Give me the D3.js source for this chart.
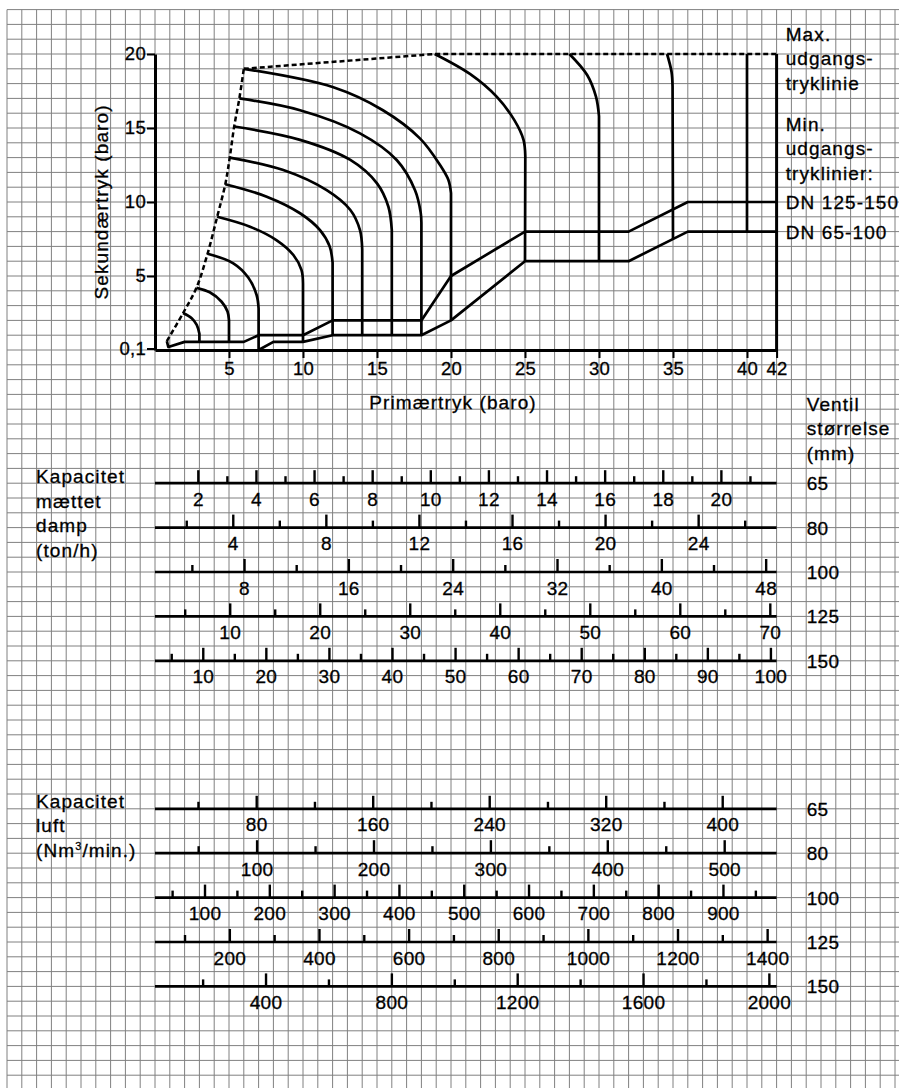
<!DOCTYPE html>
<html>
<head>
<meta charset="utf-8">
<script src="https://cdn.jsdelivr.net/npm/d3@7"></script>
<style>
    body { margin: 0; background: #fff; }
    svg text { font-family: "Liberation Sans", Arial, Helvetica, sans-serif; font-size: 19px; fill: #000; stroke: #000; stroke-width: 0.3px; }
    .word { letter-spacing: 1.1px; }
    .num { letter-spacing: 0.3px; }
</style>
</head>
<body>
<div id="chart"></div>
<script>
// ---------------------------------------------------------------- data
const pressureTicks = [5, 10, 15, 20, 25, 30, 35, 40, 42]
const outletTicks = [0.1, 5, 10, 15, 20]

// max outlet pressure line (dashed)
const maxCurve = [[0.8, 0.6], [1.9, 2.5], [2.8, 4.2], [3.55, 6.5], [4.2, 9.0], [4.75, 11.2], [5.05, 13.0], [5.35, 15.1], [5.7, 17.0], [6.0, 19.0]]
const maxTop = [[6.0, 19.0], [18.9, 20], [42, 20]]

// min outlet pressure lines
const minDN125 = [[0.8, 0.6], [0.9, 0.2], [2, 0.55], [6, 0.55], [7, 1], [10, 1], [12, 2], [18, 2], [20, 5], [25, 8], [32, 8], [36, 10], [42, 10]]
const minDN65 = [[7, 0], [8, 0.55], [10, 0.55], [12, 1], [18, 1], [20, 2], [25, 6], [32, 6], [36, 8], [42, 8]]

// primary pressure curves: arc points, then straight down to "end"
const curves = [
    { p: 3, end: 0.55, arc: [[1.9, 2.5], [2.48, 2.14], [2.82, 1.69], [3, 1.1]] },
    { p: 5, end: 0.55, arc: [[2.8, 4.2], [3.7, 3.9], [4.5, 3.26], [4.9, 2.6], [5, 2.0]] },
    { p: 7, end: 0, arc: [[3.55, 6.5], [5.29, 5.86], [6.3, 4.9], [6.87, 3.7], [7, 2.8]] },
    { p: 10, end: 0.55, arc: [[4.2, 9.0], [6.42, 8.33], [8.2, 7.43], [9.35, 6.42], [9.9, 5.4], [10, 4.5]] },
    { p: 12, end: 1, arc: [[4.75, 11.2], [7.55, 10.36], [9.8, 9.24], [11.15, 8.1], [11.8, 7.0], [12, 5.9]] },
    { p: 14, end: 1, arc: [[5.05, 13.0], [8.67, 12.16], [11.6, 10.8], [13.2, 9.46], [13.85, 8.1], [14, 6.8]] },
    { p: 16, end: 1, arc: [[5.35, 15.1], [9.8, 14.2], [13.2, 12.84], [15, 11.26], [15.77, 9.68], [16, 8.1]] },
    { p: 18, end: 1, arc: [[5.7, 17.0], [9.8, 16.2], [13.85, 14.64], [16.33, 12.84], [17.57, 10.8], [17.95, 9.3], [18, 8.6]] },
    { p: 20, end: 2, arc: [[6.0, 19.0], [12.05, 17.75], [15.4, 16.2], [17.9, 14.3], [19.26, 12.5], [19.82, 11.5], [20, 10.6]] },
    { p: 25, end: 6, arc: [[18.9, 20], [21.28, 18.65], [23.1, 17.1], [24.3, 15.5], [24.9, 14.2], [25.02, 13.1]] },
    { p: 30, end: 6, arc: [[28, 20], [29.2, 18.58], [29.8, 17.1], [30, 15.8]] },
    { p: 35, end: 7.5, arc: [[34.6, 20], [34.9, 18.8], [34.97, 17.8]] },
    { p: 40, end: 8, arc: [[40, 20]] }
]

const rightLabels = ["Max.", "udgangs-", "tryklinie", "Min.", "udgangs-", "tryklinier:"]
const dnLabels = [{ text: "DN 125-150", level: 10 }, { text: "DN 65-100", level: 8 }]

// nomogram scales (valve size in mm)
const steamSizes = [65, 80, 100, 125, 150]
const steamEnds = [21.9, 27.35, 48.8, 70.7, 100.9]
const steamMajor = [
    [2, 4, 6, 8, 10, 12, 14, 16, 18, 20],
    [4, 8, 12, 16, 20, 24],
    [8, 16, 24, 32, 40, 48],
    [10, 20, 30, 40, 50, 60, 70],
    [10, 20, 30, 40, 50, 60, 70, 80, 90, 100]
]
const steamMinor = [
    [3, 5, 7, 9, 11, 13, 15, 17, 19, 21],
    [2, 6, 10, 14, 18, 22, 26],
    [4, 12, 20, 28, 36, 44],
    [5, 15, 25, 35, 45, 55, 65],
    [5, 15, 25, 35, 45, 55, 65, 75, 85, 95]
]

const airSizes = [65, 80, 100, 125, 150]
const airEnds = [437, 544.4, 982, 1420, 2023]
const airMajor = [
    [80, 160, 240, 320, 400],
    [100, 200, 300, 400, 500],
    [100, 200, 300, 400, 500, 600, 700, 800, 900],
    [200, 400, 600, 800, 1000, 1200, 1400],
    [400, 800, 1200, 1600, 2000]
]
const airMinor = [
    [40, 120, 200, 280, 360],
    [50, 150, 250, 350, 450],
    [50, 150, 250, 350, 450, 550, 650, 750, 850, 950],
    [100, 300, 500, 700, 900, 1100, 1300],
    [200, 600, 1000, 1400, 1800]
]

// ---------------------------------------------------------------- layout
const W = 899
const H = 1088

const x = d3.scaleLinear().domain([0, 42]).range([155, 776.6])
const y = d3.scaleLinear().domain([0, 20]).range([350, 54])

// grid rows count down from the 20 bar line, one bar per cell
const rowY = k => y(20 - k)

const svg = d3.select('#chart')
    .append('svg')
    .attr('width', W)
    .attr('height', H)

//grid paper
const grid = svg.append('g').attr('stroke', '#808080').attr('stroke-width', 1)
grid.selectAll('line.v')
    .data(d3.range(-10, 51))
    .join('line')
    .attr('class', 'v')
    .attr('x1', d => x(d)).attr('x2', d => x(d))
    .attr('y1', rowY(-3)).attr('y2', H)
grid.selectAll('line.h')
    .data(d3.range(-3, 70))
    .join('line')
    .attr('class', 'h')
    .attr('x1', x(-10)).attr('x2', W)
    .attr('y1', d => rowY(d)).attr('y2', d => rowY(d))

//----------------------------------------------------------------------------
// pressure chart
const chart = svg.append('g')

const fmt = d => String(d).replace('.', ',')

const yAxis = chart.append('g')
    .attr('transform', `translate(${x(0)},0)`)
    .call(d3.axisLeft(y).tickValues(outletTicks).tickFormat(fmt).tickSize(8).tickSizeOuter(0).tickPadding(1))
const xAxis = chart.append('g')
    .attr('transform', `translate(0,${y(0)})`)
    .call(d3.axisBottom(x).tickValues(pressureTicks).tickSize(8).tickSizeOuter(0).tickPadding(4))

;[yAxis, xAxis].forEach(a => {
    a.select('.domain').attr('stroke', '#000').attr('stroke-width', 3)
    a.selectAll('.tick line').attr('stroke', '#000').attr('stroke-width', 2)
    a.selectAll('.tick text')
        .attr('class', 'num')
        .style('font-family', '"Liberation Sans", Arial, sans-serif')
        .style('font-size', '18.5px')
        .attr('fill', '#000')
})

//right frame
chart.append('line')
    .attr('x1', x(42)).attr('x2', x(42))
    .attr('y1', y(20)).attr('y2', y(0))
    .attr('stroke', '#000').attr('stroke-width', 3)

const line = d3.line().x(d => x(d[0])).y(d => y(d[1]))
const smooth = d3.line().x(d => x(d[0])).y(d => y(d[1])).curve(d3.curveCatmullRom.alpha(0.5))

chart.selectAll('path.max')
    .data([smooth(maxCurve), line(maxTop)])
    .join('path')
    .attr('class', 'max')
    .attr('d', d => d)
    .attr('fill', 'none')
    .attr('stroke', '#000')
    .attr('stroke-width', 2.5)
    .attr('stroke-dasharray', '5,3')

chart.selectAll('path.min')
    .data([minDN125, minDN65])
    .join('path')
    .attr('class', 'min')
    .attr('d', line)
    .attr('fill', 'none')
    .attr('stroke', '#000')
    .attr('stroke-width', 2.7)
    .attr('stroke-linejoin', 'round')

chart.selectAll('path.curve')
    .data(curves)
    .join('path')
    .attr('class', 'curve')
    .attr('d', d => {
        const head = d.arc.length > 1 ? smooth(d.arc) : `M${x(d.arc[0][0])},${y(d.arc[0][1])}`
        return head + `L${x(d.p)},${y(d.end)}`
    })
    .attr('fill', 'none')
    .attr('stroke', '#000')
    .attr('stroke-width', 2.7)
    .attr('stroke-linejoin', 'round')

//axis titles
chart.append('text')
    .attr('class', 'word')
    .attr('transform', `translate(108,${(y(0) + y(20)) / 2}) rotate(-90)`)
    .attr('text-anchor', 'middle')
    .text('Sekundærtryk (baro)')

chart.append('text')
    .attr('class', 'word')
    .attr('x', 453)
    .attr('y', 409)
    .attr('text-anchor', 'middle')
    .text('Primærtryk (baro)')

//right side texts
chart.selectAll('text.rl')
    .data(rightLabels)
    .join('text')
    .attr('class', 'rl word')
    .attr('x', 785.7)
    .attr('y', (d, i) => (i < 3 ? 40.7 : 57) + i * 24.6)
    .text(d => d)

chart.selectAll('text.dn')
    .data(dnLabels)
    .join('text')
    .attr('class', 'dn word')
    .attr('x', 785.7)
    .attr('y', d => y(d.level) + 7)
    .text(d => d.text)

//----------------------------------------------------------------------------
// nomogram scales
function drawScales(sizes, ends, majors, minors, row0) {
    const g = svg.append('g')
    sizes.forEach((size, i) => {
        const ry = rowY(row0 + i * 3)
        const s = d3.scaleLinear().domain([0, ends[i]]).range([x(-1), x(42)])

        g.append('line')
            .attr('x1', x(0)).attr('x2', x(42))
            .attr('y1', ry).attr('y2', ry)
            .attr('stroke', '#000').attr('stroke-width', 2.7)

        g.selectAll(null)
            .data(majors[i])
            .join('line')
            .attr('x1', d => s(d)).attr('x2', d => s(d))
            .attr('y1', ry).attr('y2', ry - 13)
            .attr('stroke', '#000').attr('stroke-width', 2.4)

        g.selectAll(null)
            .data(minors[i])
            .join('line')
            .attr('x1', d => s(d)).attr('x2', d => s(d))
            .attr('y1', ry).attr('y2', ry - 7)
            .attr('stroke', '#000').attr('stroke-width', 2.4)

        g.selectAll(null)
            .data(majors[i])
            .join('text')
            .attr('class', 'num')
            .attr('x', d => s(d))
            .attr('y', ry + 22.5)
            .attr('text-anchor', 'middle')
            .text(d => d)

        g.append('text')
            .attr('class', 'num')
            .attr('x', 806.7)
            .attr('y', ry + 7)
            .text(size)
    })
}

const steamRow0 = 29
const airRow0 = 51
drawScales(steamSizes, steamEnds, steamMajor, steamMinor, steamRow0)
drawScales(airSizes, airEnds, airMajor, airMinor, airRow0)

//left and right headings
const steamTitle = ["Kapacitet", "mættet", "damp", "(ton/h)"]
svg.selectAll('text.st')
    .data(steamTitle)
    .join('text')
    .attr('class', 'st word')
    .attr('x', 36)
    .attr('y', (d, i) => rowY(steamRow0) + i * 24.6)
    .text(d => d)

const airTitle = svg.append('g')
airTitle.selectAll('text')
    .data(["Kapacitet", "luft"])
    .join('text')
    .attr('class', 'word')
    .attr('x', 36)
    .attr('y', (d, i) => rowY(airRow0) - 1 + i * 24.6)
    .text(d => d)
const nm = airTitle.append('text')
    .attr('class', 'word')
    .attr('x', 36)
    .attr('y', rowY(airRow0) - 1 + 2 * 24.6)
nm.append('tspan').text('(Nm')
nm.append('tspan').attr('dy', -7).style('font-size', '11px').text('3')
nm.append('tspan').attr('dy', 7).text('/min.)')

svg.selectAll('text.vs')
    .data(["Ventil", "størrelse", "(mm)"])
    .join('text')
    .attr('class', 'vs word')
    .attr('x', 806.7)
    .attr('y', (d, i) => rowY(steamRow0) - 72.5 + i * 24.6)
    .text(d => d)
</script>
</body>
</html>
